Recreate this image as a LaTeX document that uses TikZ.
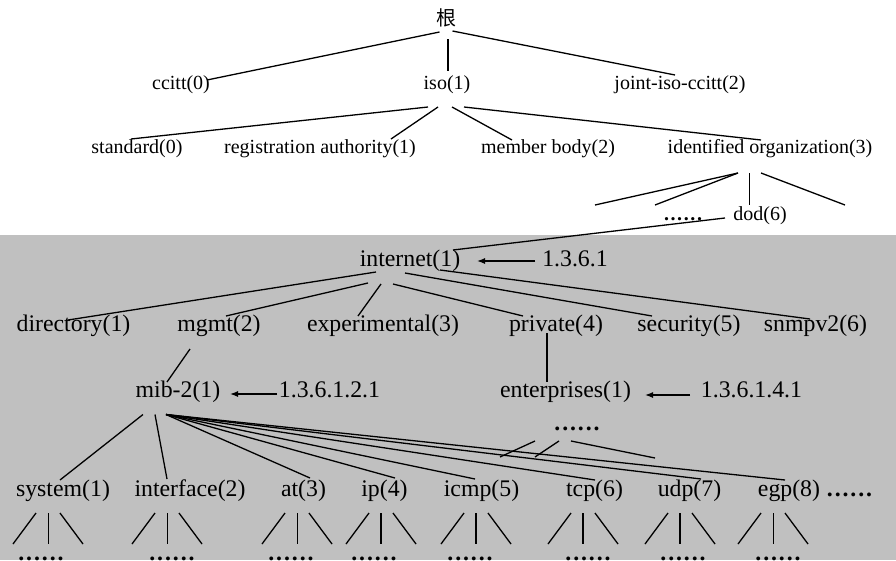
\documentclass[tikz,border=0pt]{standalone}
\usepackage{fontspec}
\setmainfont{Liberation Serif}
\newfontfamily\cjk{Noto Sans CJK SC}
\usepackage{tikz}
\usetikzlibrary{arrows.meta}
\definecolor{mibgray}{RGB}{192,192,192}
\newcommand{\sixdots}{\bfseries.\kern.08em.\kern.08em.\kern.08em.\kern.08em.\kern.08em.}

\tikzset{
  upper/.style={inner sep=0pt, outer sep=0pt, font=\fontsize{20}{22}\selectfont, text height=13.8pt, text depth=3.6pt},
  lower/.style={inner sep=0pt, outer sep=0pt, font=\fontsize{23.8}{26}\selectfont, text height=16.5pt, text depth=4.3pt},
  link/.style={line width=1.3pt},
  thin link/.style={line width=1pt},
  thick link/.style={line width=2.2pt},
  oid/.style={line width=1.3pt, -{Latex[length=8pt,width=6pt]}},
}

\begin{document}
\begin{tikzpicture}[x=1pt,y=-1pt]
\useasboundingbox (0,0) rectangle (896,560);
\fill[mibgray] (0,235) rectangle (896,560);

% upper part of the tree
\node[inner sep=0pt, font=\cjk\fontsize{20}{22}\selectfont] (root) at (446.5,18) {根};
\node[upper] (ccitt) at (181,84) {ccitt(0)};
\node[upper] (iso) at (447,84) {iso(1)};
\node[upper] (joint) at (680,84) {joint-iso-ccitt(2)};
\node[upper] (standard) at (137,148.5) {standard(0)};
\node[upper] (regauth) at (320,148.5) {registration authority(1)};
\node[upper] (member) at (548,148.5) {member body(2)};
\node[upper] (identorg) at (770,148.5) {identified organization(3)};
\node[upper] (updots) at (683,215) {\sixdots};
\node[upper] (dod) at (760,215) {dod(6)};

\draw[link] ([shift={(-7,14)}]root.center) -- ([shift={(26,-4)}]ccitt.center);
\draw[thick link] ([shift={(1.5,21)}]root.center) -- ([shift={(1,-13)}]iso.center);
\draw[link] ([shift={(6,13)}]root.center) -- ([shift={(-5,-9)}]joint.center);
\draw[link] ([shift={(-19,23)}]iso.center) -- ([shift={(-6,-9.5)}]standard.center);
\draw[link] ([shift={(-9,23)}]iso.center) -- ([shift={(71,-9.5)}]regauth.center);
\draw[link] ([shift={(5,23)}]iso.center) -- ([shift={(-36,-8.5)}]member.center);
\draw[link] ([shift={(17,23)}]iso.center) -- ([shift={(-9,-8.5)}]identorg.center);
\draw[link] ([shift={(-32,24.5)}]identorg.center) -- ++(-143,32);
\draw[link] ([shift={(-32,24.5)}]identorg.center) -- ++(-83,32);
\draw[thin link] ([shift={(-20.5,24.5)}]identorg.center) -- ([shift={(-10.5,-10)}]dod.center);
\draw[link] ([shift={(-9,24.5)}]identorg.center) -- ++(84,32);

% lower part, internet subtree
\node[lower] (internet) at (410,260) {internet(1)};
\node[lower] (oidinet) at (575,260) {1.3.6.1};
\node[lower] (directory) at (73.5,325) {directory(1)};
\node[lower] (mgmt) at (219,325) {mgmt(2)};
\node[lower] (experimental) at (383,325) {experimental(3)};
\node[lower] (private) at (556,325) {private(4)};
\node[lower] (security) at (689,325) {security(5)};
\node[lower] (snmpv) at (815.5,325) {snmpv2(6)};
\node[lower] (mib) at (178,391) {mib-2(1)};
\node[lower] (oidmib) at (329.5,391) {1.3.6.1.2.1};
\node[lower] (enterprises) at (565.5,391) {enterprises(1)};
\node[lower] (oident) at (751.5,391) {1.3.6.1.4.1};
\node[lower] (entdots) at (577,424) {\sixdots};
\node[lower] (moredots) at (849.5,490.5) {\sixdots};

\draw[link] ([shift={(-35,3)}]dod.center) -- ([shift={(43,-10)}]internet.center);
\draw[oid] ([shift={(-40,1)}]oidinet.center) -- ([shift={(67,1)}]internet.center);
\draw[link] ([shift={(-34,12)}]internet.center) -- ([shift={(-5.5,-5)}]directory.center);
\draw[link] ([shift={(-42,23)}]internet.center) -- ([shift={(7,-9)}]mgmt.center);
\draw[link] ([shift={(-29,24)}]internet.center) -- ([shift={(-25,-9)}]experimental.center);
\draw[link] ([shift={(-17,24)}]internet.center) -- ([shift={(-33,-9)}]private.center);
\draw[link] ([shift={(-5,13)}]internet.center) -- ([shift={(-37,-9)}]security.center);
\draw[link] ([shift={(30,10)}]internet.center) -- ([shift={(-5.5,-6)}]snmpv.center);
\draw[link] ([shift={(-29,24)}]mgmt.center) -- ([shift={(-11,-9)}]mib.center);
\draw[thick link] ([shift={(-9,8)}]private.center) -- ([shift={(-18.5,-9)}]enterprises.center);
\draw[oid] ([shift={(-52.5,3)}]oidmib.center) -- ([shift={(52,3)}]mib.center);
\draw[oid] ([shift={(-61.5,4)}]oident.center) -- ([shift={(79.5,4)}]enterprises.center);
\draw[link] ([shift={(-42,17)}]entdots.center) -- ++(-35,16);
\draw[link] ([shift={(-18,17)}]entdots.center) -- ++(-24,16);
\draw[link] ([shift={(-6,17)}]entdots.center) -- ++(84,17);

% groups under mib-2
\foreach \n/\t/\x/\f/\d/\w in {system/system(1)/63/48/41/1, interface/interface(2)/190/167/172/1,
    addrtrans/at(3)/303.5/297/291/1, ip/ip(4)/384.5/381/374/1.8, icmp/icmp(5)/481.5/476/470/1.8,
    tcp/tcp(6)/594.5/583/588/1.8, udp/udp(7)/689.5/680/683/1.8, egp/egp(8)/789/773/778/1}{
  \node[lower] (\n) at (\x,490.5) {\t};
  \node[lower] (\n dots) at (\d,554) {\sixdots};
  \draw[line width=\w pt] ([shift={({\f-\x},22.5)}]\n.center) -- ([shift={({\f-\d},-10)}]\n dots.center);
  \draw[link] ([shift={({\f-\x-12},22.5)}]\n.center) -- ++(-23,31);
  \draw[link] ([shift={({\f-\x+12},22.5)}]\n.center) -- ++(23,31);
}
\foreach \n/\a/\b/\c in {system/-35/-3/-10.5, interface/-23/-23/-11.5, addrtrans/-12/6.5/-12.5,
    ip/-12/10.5/-12.5, icmp/-12/-6.5/-11.5, tcp/-12/0.5/-10.5, udp/-12/11.5/-11.5, egp/-12/-4/-10.5}
  \draw[link] ([shift={(\a,23.5)}]mib.center) -- ([shift={(\b,\c)}]\n.center);
\end{tikzpicture}
\end{document}
